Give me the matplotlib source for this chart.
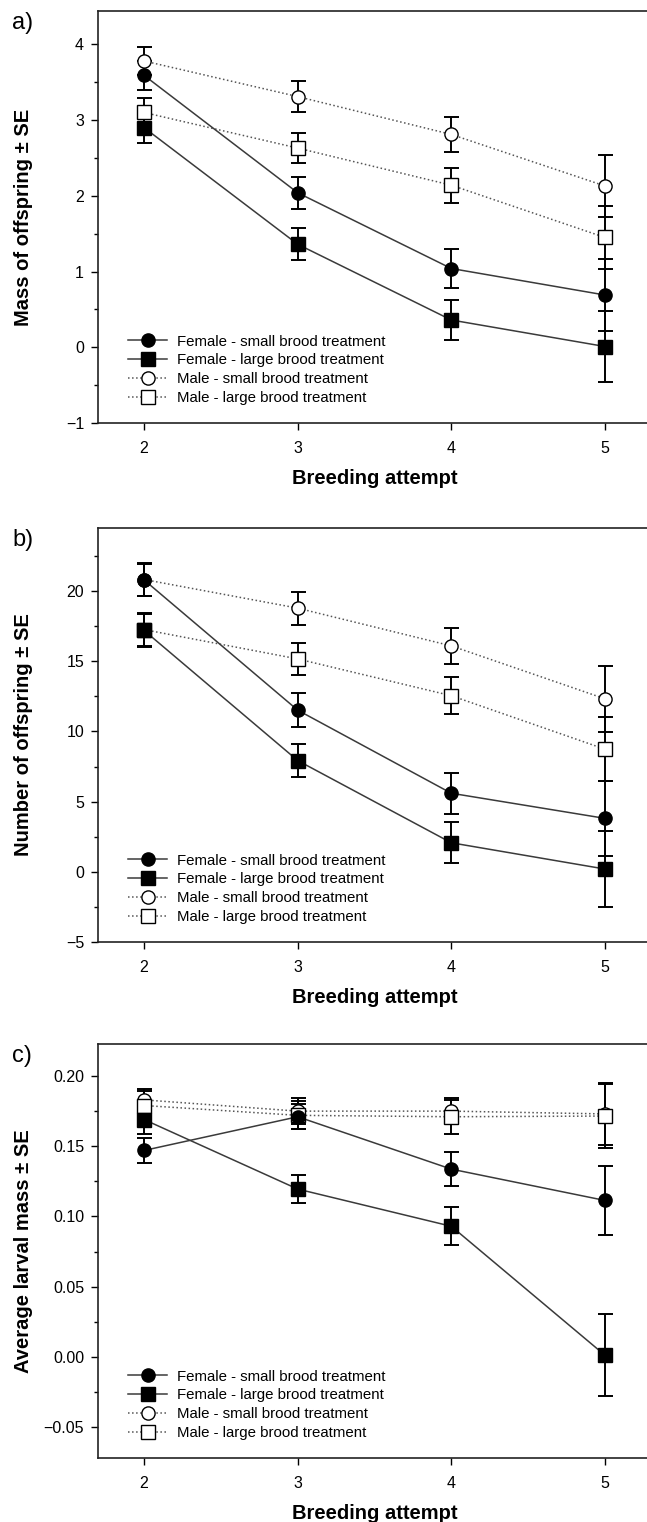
import matplotlib
matplotlib.use("Agg")
import matplotlib.pyplot as plt
from matplotlib.lines import Line2D
from matplotlib.ticker import MultipleLocator

plt.rcParams['font.family'] = ['Liberation Sans', 'DejaVu Sans']

attempts = [2, 3, 4, 5]
labels = ["Female - small brood treatment", "Female - large brood treatment",
          "Male - small brood treatment", "Male - large brood treatment"]

# Panel a: mass of offspring
a_fem_small = [3.59, 2.04, 1.04, 0.69]
a_fem_small_se = [0.19, 0.21, 0.26, 0.47]
a_fem_large = [2.90, 1.36, 0.36, 0.01]
a_fem_large_se = [0.20, 0.21, 0.26, 0.47]
a_male_small = [3.78, 3.31, 2.81, 2.13]
a_male_small_se = [0.19, 0.20, 0.23, 0.41]
a_male_large = [3.10, 2.63, 2.14, 1.45]
a_male_large_se = [0.19, 0.20, 0.23, 0.41]

# Panel b: number of offspring
b_fem_small = [20.8, 11.52, 5.6, 3.81]
b_fem_small_se = [1.15, 1.2, 1.46, 2.67]
b_fem_large = [17.2, 7.93, 2.07, 0.2]
b_fem_large_se = [1.17, 1.17, 1.45, 2.7]
b_male_small = [20.83, 18.79, 16.1, 12.33]
b_male_small_se = [1.15, 1.17, 1.3, 2.35]
b_male_large = [17.26, 15.17, 12.55, 8.74]
b_male_large_se = [1.17, 1.15, 1.3, 2.3]

# Panel c: average larval mass
c_fem_small = [0.147, 0.171, 0.1337, 0.1114]
c_fem_small_se = [0.009, 0.009, 0.012, 0.0243]
c_fem_large = [0.169, 0.1195, 0.093, 0.0012]
c_fem_large_se = [0.010, 0.010, 0.0135, 0.0294]
c_male_small = [0.183, 0.175, 0.175, 0.173]
c_male_small_se = [0.008, 0.009, 0.009, 0.022]
c_male_large = [0.179, 0.172, 0.171, 0.1715]
c_male_large_se = [0.010, 0.010, 0.012, 0.023]

W, H = 647, 1522
fig = plt.figure(figsize=(W / 100, H / 100), dpi=100)

ax_left = 98 / W
ax_w = 553 / W


def make_ax(top_px, bot_px):
    return fig.add_axes([ax_left, 1 - bot_px / H, ax_w, (bot_px - top_px) / H])


styles = [
    dict(marker='o', mfc='black', ls='-', color='#3a3a3a'),
    dict(marker='s', mfc='black', ls='-', color='#3a3a3a'),
    dict(marker='o', mfc='white', ls=':', color='#555555'),
    dict(marker='s', mfc='white', ls=':', color='#555555'),
]


def draw_panel(ax, series, ylim, major, minor, ylabel, letter, top_px, fmt):
    order = [2, 3, 0, 1]
    for i in order:
        y, se = series[i]
        st = styles[i]
        ax.plot(attempts, y, ls=st['ls'], color=st['color'], lw=1.1, zorder=2)
        ax.errorbar(attempts, y, yerr=se, fmt='none', ecolor='black',
                    elinewidth=1.4, capsize=5.4, capthick=1.4, zorder=3)
        ax.plot(attempts, y, ls='none', marker=st['marker'], ms=9.5,
                mfc=st['mfc'], mec='black', mew=1.0, zorder=4)
    ax.set_xlim(1.7, 5.3)
    ax.set_ylim(*ylim)
    ax.set_xticks(attempts)
    ax.yaxis.set_major_locator(MultipleLocator(major))
    ax.yaxis.set_minor_locator(MultipleLocator(minor))
    ax.yaxis.set_major_formatter(plt.FuncFormatter(lambda v, p: fmt.format(v).replace('-', '\u2212')))
    ax.tick_params(axis='y', which='major', direction='out', length=5, width=1, pad=5, labelsize=11.5)
    ax.tick_params(axis='y', which='minor', direction='out', length=3, width=1)
    ax.tick_params(axis='x', which='major', direction='out', length=5, width=1, pad=8, labelsize=11.5)
    ax.spines['right'].set_visible(False)
    for s in ['left', 'bottom', 'top']:
        ax.spines[s].set_linewidth(1.2)
        ax.spines[s].set_color('#222222')
    ax.set_ylabel(ylabel, fontsize=14.5, fontweight='bold')
    ax.yaxis.set_label_coords(-65 / 553, 0.5)
    ax.set_xlabel("Breeding attempt", fontsize=14.5, fontweight='bold')
    ax.xaxis.set_label_coords(0.5, -46 / 414)
    handles = [Line2D([], [], ls=st['ls'], color=st['color'], lw=1.1, marker=st['marker'],
                      ms=9.5, mfc=st['mfc'], mec='black', mew=1.0) for st in styles]
    ax.legend(handles, labels, loc='lower left', bbox_to_anchor=(30 / 553, 18 / 414),
              frameon=False, fontsize=10.8, handlelength=2.6, handletextpad=0.65,
              labelspacing=0.32, borderpad=0, borderaxespad=0)
    fig.text(12 / W, 1 - (top_px + 12) / H, letter, fontsize=17, ha='left', va='center')


ax_a = make_ax(11, 423)
draw_panel(ax_a,
           [(a_fem_small, a_fem_small_se), (a_fem_large, a_fem_large_se),
            (a_male_small, a_male_small_se), (a_male_large, a_male_large_se)],
           (-1, 4.44), 1, 0.5, "Mass of offspring \u00b1 SE", "a)", 11, "{:.0f}")

ax_b = make_ax(528, 942)
draw_panel(ax_b,
           [(b_fem_small, b_fem_small_se), (b_fem_large, b_fem_large_se),
            (b_male_small, b_male_small_se), (b_male_large, b_male_large_se)],
           (-5, 24.5), 5, 2.5, "Number of offspring \u00b1 SE", "b)", 528, "{:.0f}")

ax_c = make_ax(1044, 1458)
draw_panel(ax_c,
           [(c_fem_small, c_fem_small_se), (c_fem_large, c_fem_large_se),
            (c_male_small, c_male_small_se), (c_male_large, c_male_large_se)],
           (-0.072, 0.2228), 0.05, 0.025, "Average larval mass \u00b1 SE", "c)", 1044, "{:.2f}")

fig.savefig("out.png", dpi=100)
